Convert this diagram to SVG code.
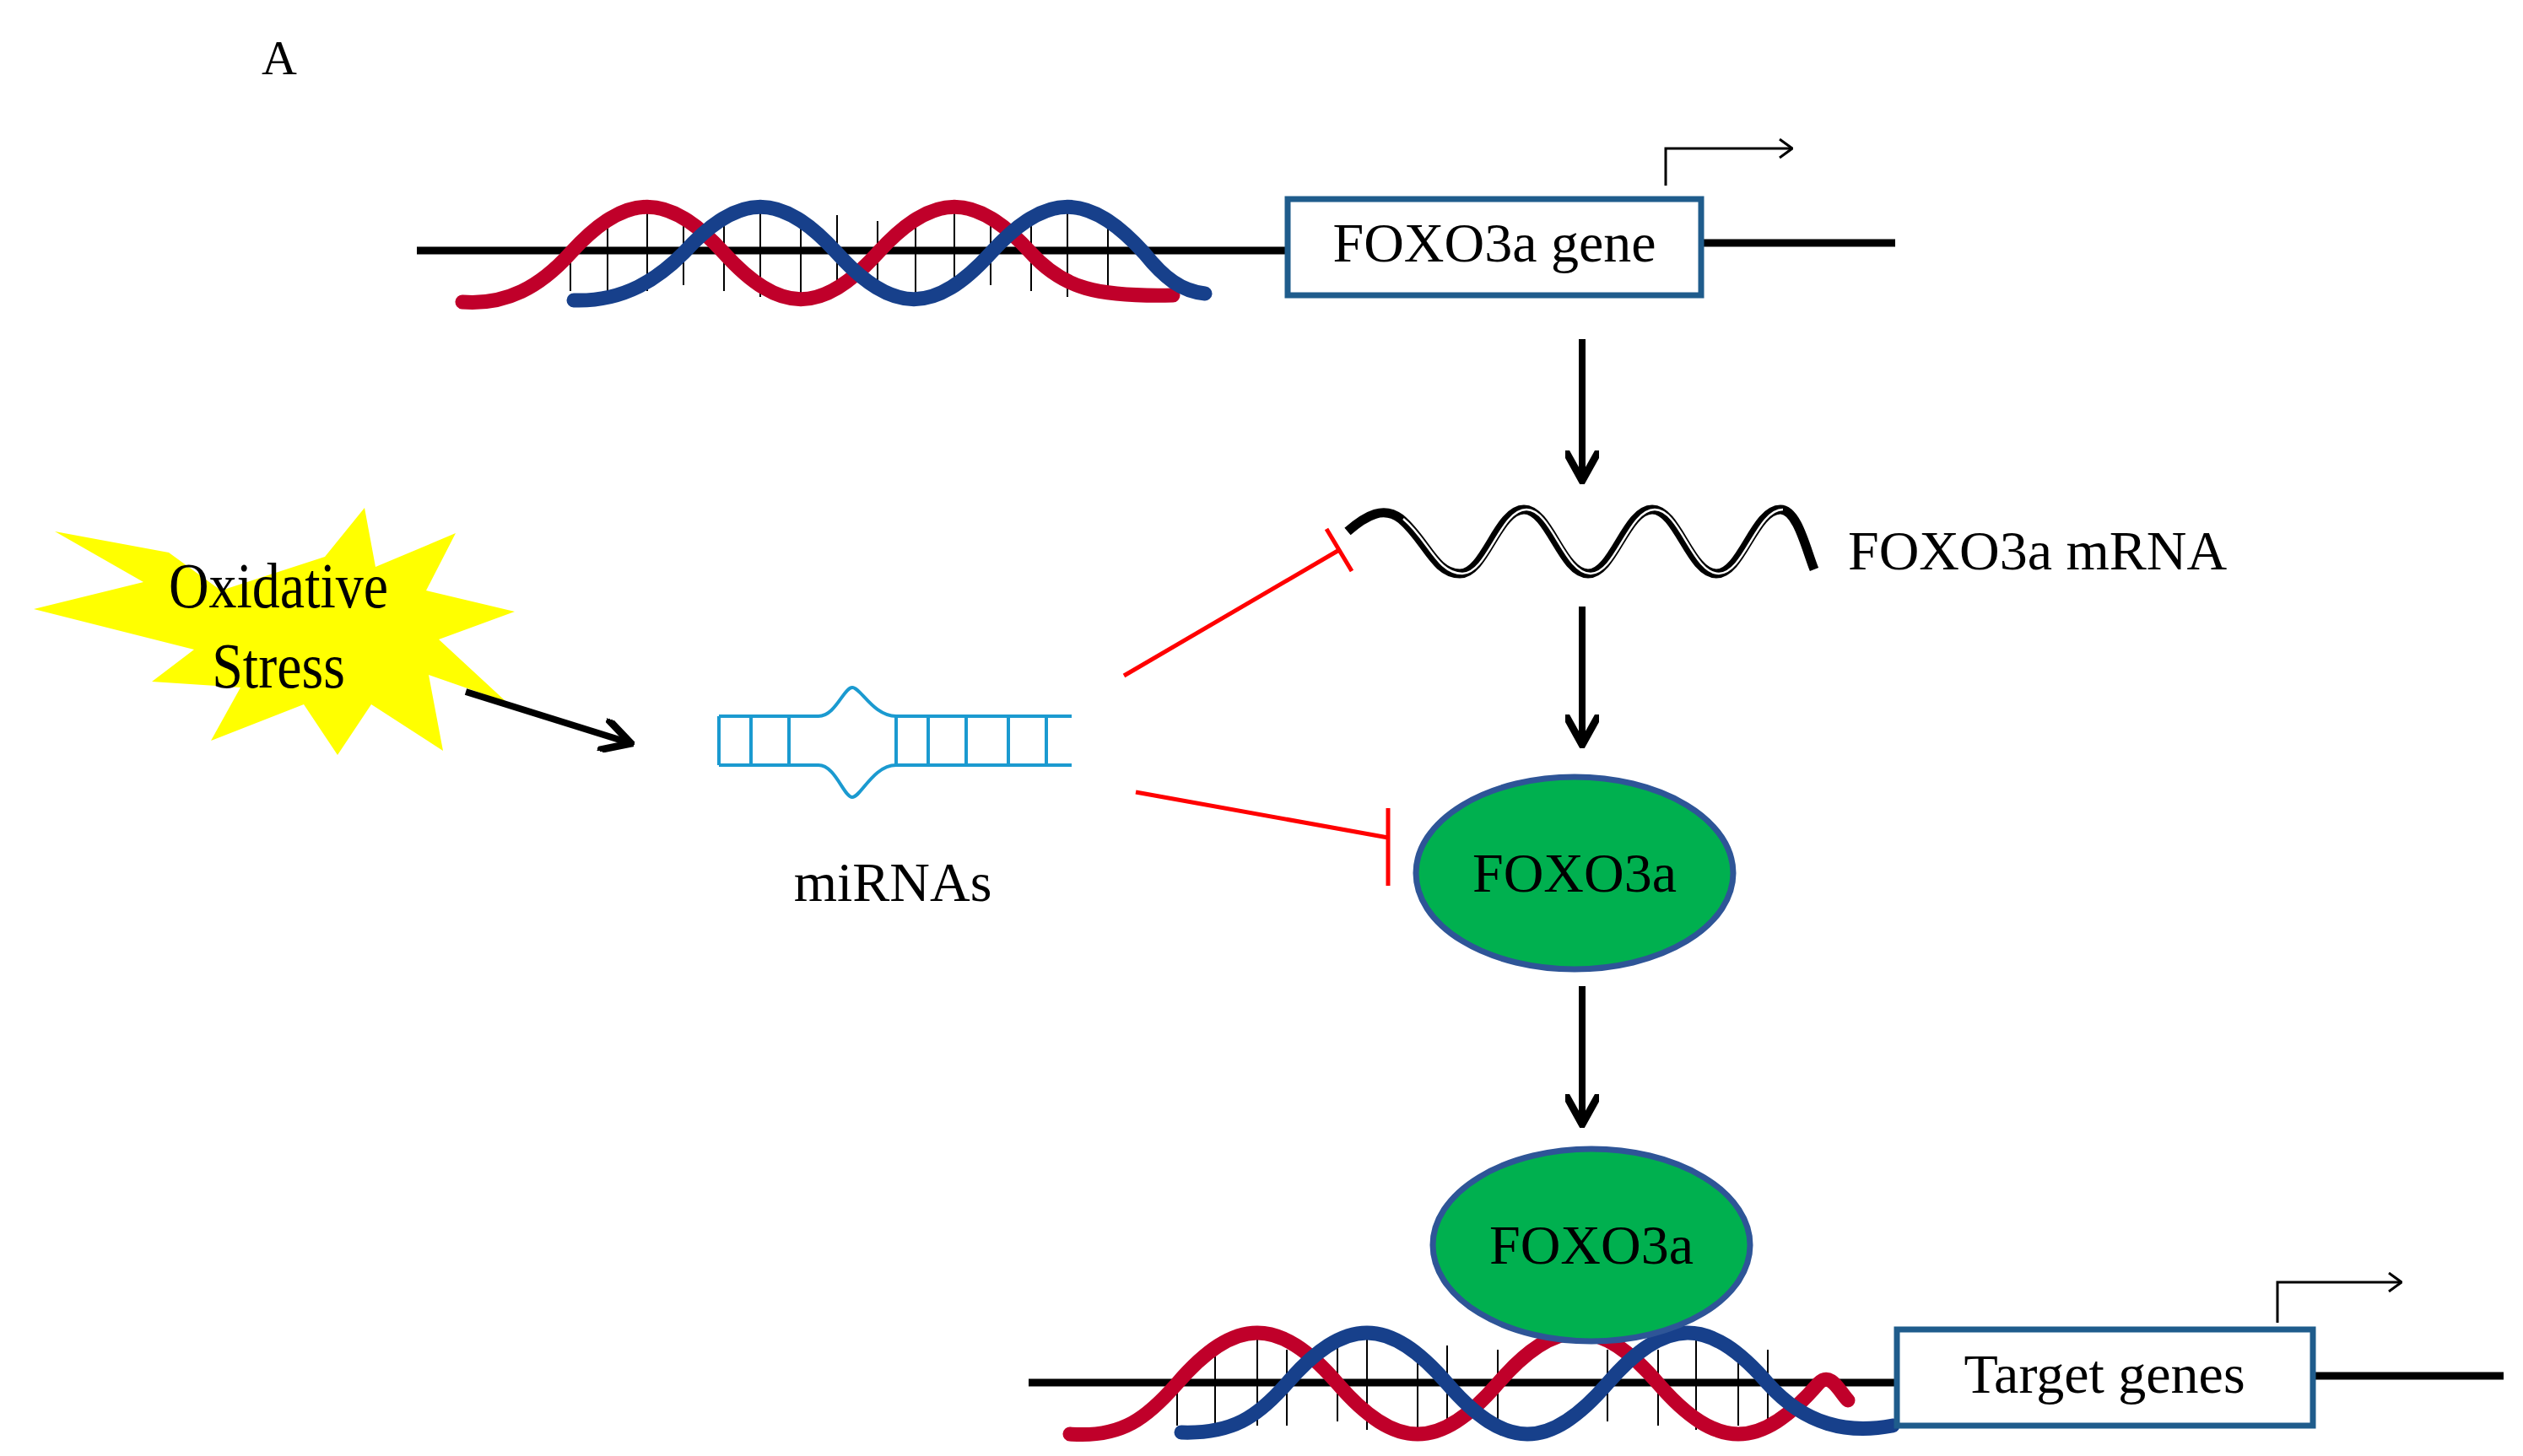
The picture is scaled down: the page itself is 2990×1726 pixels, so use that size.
<svg xmlns="http://www.w3.org/2000/svg" width="2990" height="1726" viewBox="0 0 2990 1726">
<style>
text{font-family:"Liberation Serif","Times New Roman",serif;fill:#000}
.lbl{font-size:66px}
.dna{stroke:#000;stroke-width:9;fill:none}
.red{stroke:#c0002a;stroke-width:17;fill:none;stroke-linecap:round}
.blue{stroke:#17408b;stroke-width:17;fill:none;stroke-linecap:round}
.rung{stroke:#000;stroke-width:2}
.box{fill:#fff;stroke:#1f5c8c;stroke-width:7}
.ell{fill:#00b04f;stroke:#2e5597;stroke-width:7}
.arr{stroke:#000;stroke-width:8;fill:none;marker-end:url(#ah)}
.inh{stroke:#ff0000;stroke-width:5;fill:none}
.prom{stroke:#000;stroke-width:3;fill:none;marker-end:url(#open)}
.mi{stroke:#1b9ad0;stroke-width:4;fill:none}
</style>
<defs>
<marker id="ah" viewBox="0 0 10 10" refX="8" refY="5" markerWidth="5" markerHeight="5" orient="auto" markerUnits="strokeWidth">
<path d="M0,0 L9,5 L0,10" fill="none" stroke="#000" stroke-width="2.2"/>
</marker>
<marker id="open" viewBox="0 0 24 24" refX="23" refY="12" markerWidth="24" markerHeight="24" orient="auto" markerUnits="userSpaceOnUse">
<path d="M8,1 L23,12 L8,23" fill="none" stroke="#000" stroke-width="3"/>
</marker>
</defs>
<text x="310" y="88" style="font-size:58px">A</text>

<g id="top-dna">
<line class="dna" x1="494" y1="297" x2="1530" y2="297"/>
<line class="dna" x1="2010" y1="288" x2="2246" y2="288"/>
<g class="rung">
<line x1="676" y1="300" x2="676" y2="345"/><line x1="720" y1="262" x2="720" y2="352"/><line x1="767" y1="250" x2="767" y2="345"/>
<line x1="810" y1="262" x2="810" y2="338"/><line x1="858" y1="255" x2="858" y2="345"/><line x1="901" y1="248" x2="901" y2="352"/>
<line x1="949" y1="262" x2="949" y2="352"/><line x1="992" y1="255" x2="992" y2="345"/><line x1="1040" y1="262" x2="1040" y2="338"/>
<line x1="1085" y1="255" x2="1085" y2="352"/><line x1="1131" y1="248" x2="1131" y2="345"/><line x1="1174" y1="262" x2="1174" y2="338"/>
<line x1="1222" y1="255" x2="1222" y2="345"/><line x1="1265" y1="248" x2="1265" y2="352"/><line x1="1313" y1="262" x2="1313" y2="352"/>
</g>
<path class="red" d="M548,358 C600,362 640,340 676,300 C742,227 792,227 858,300 C924,373 974,373 1040,300 C1106,227 1156,227 1222,300 C1260,342 1300,352 1390,350"/>
<path class="blue" d="M680,356 C740,358 780,330 810,300 C876,227 926,227 992,300 C1058,373 1108,373 1174,300 C1240,227 1290,227 1356,300 C1380,330 1400,345 1428,348"/>
</g>
<g id="gene-box">
<rect class="box" x="1526" y="236" width="490" height="114"/>
<text class="lbl" x="1771" y="310" text-anchor="middle">FOXO3a gene</text>
</g>
<path class="prom" d="M1974,220 V176 H2124"/>

<g id="mrna">
<path d="M1597,630 C1620,610 1640,600 1660,615 C1690,640 1700,680 1730,680 C1760,680 1775,604 1806,604 C1836,604 1851,680 1882,680 C1912,680 1927,604 1958,604 C1988,604 2003,680 2034,680 C2064,680 2079,604 2110,604 C2130,604 2140,650 2150,675" stroke="#000" stroke-width="11" fill="none"/>
<path d="M1660,615 C1690,640 1700,680 1730,680 C1760,680 1775,604 1806,604 C1836,604 1851,680 1882,680 C1912,680 1927,604 1958,604 C1988,604 2003,680 2034,680 C2064,680 2079,604 2110,604" stroke="#fff" stroke-width="2.5" fill="none" transform="translate(3,0)"/>
<text class="lbl" x="2190" y="675">FOXO3a mRNA</text>
</g>

<g id="stress">
<polygon fill="#ffff00" points="432,602 445,672 540,632 505,700 610,725 520,758 600,832 508,800 525,890 440,835 400,895 360,835 250,878 285,815 180,808 230,770 40,722 170,690 65,630 200,655 262,700 385,660"/>
<text class="lbl" x="330" y="720" text-anchor="middle" transform="translate(330,720) scale(1,1.15) translate(-330,-720)">Oxidative</text>
<text class="lbl" x="330" y="815" text-anchor="middle" transform="translate(330,815) scale(1,1.15) translate(-330,-815)">Stress</text>
</g>

<g id="mirna">
<path class="mi" d="M852,849 H970 C990,849 1000,815 1010,815 C1020,815 1035,849 1062,849 H1270"/>
<path class="mi" d="M852,907 H970 C990,907 1000,945 1010,945 C1020,945 1035,907 1062,907 H1270"/>
<g class="mi"><line x1="852" y1="849" x2="852" y2="907"/><line x1="890" y1="849" x2="890" y2="907"/><line x1="935" y1="849" x2="935" y2="907"/><line x1="1062" y1="849" x2="1062" y2="907"/><line x1="1100" y1="849" x2="1100" y2="907"/><line x1="1145" y1="849" x2="1145" y2="907"/><line x1="1195" y1="849" x2="1195" y2="907"/><line x1="1240" y1="849" x2="1240" y2="907"/></g>
<text class="lbl" x="1058" y="1068" text-anchor="middle">miRNAs</text>
</g>

<g id="foxo3a-1">
<ellipse class="ell" cx="1866" cy="1035" rx="188" ry="114"/>
<text class="lbl" x="1866" y="1057" text-anchor="middle">FOXO3a</text>
</g>

<g id="bottom-dna">
<line class="dna" x1="1219" y1="1639" x2="2250" y2="1639"/>
<line class="dna" x1="2740" y1="1631" x2="2967" y2="1631"/>
<g class="rung">
<line x1="1395" y1="1640" x2="1395" y2="1690"/><line x1="1440" y1="1600" x2="1440" y2="1695"/><line x1="1490" y1="1585" x2="1490" y2="1690"/>
<line x1="1525" y1="1600" x2="1525" y2="1690"/><line x1="1585" y1="1595" x2="1585" y2="1685"/><line x1="1620" y1="1585" x2="1620" y2="1695"/>
<line x1="1680" y1="1595" x2="1680" y2="1695"/><line x1="1715" y1="1595" x2="1715" y2="1685"/><line x1="1775" y1="1600" x2="1775" y2="1685"/>
<line x1="1905" y1="1600" x2="1905" y2="1685"/><line x1="1965" y1="1600" x2="1965" y2="1690"/><line x1="2010" y1="1585" x2="2010" y2="1695"/>
<line x1="2060" y1="1595" x2="2060" y2="1690"/><line x1="2095" y1="1600" x2="2095" y2="1685"/>
</g>
<path class="red" d="M1268,1700 C1330,1705 1360,1680 1395,1640 C1464,1560 1516,1560 1585,1640 C1654,1720 1706,1720 1775,1640 C1844,1560 1896,1560 1965,1640 C2034,1720 2086,1720 2155,1640 C2170,1625 2180,1650 2190,1660"/>
<path class="blue" d="M1400,1698 C1460,1700 1490,1680 1525,1640 C1594,1560 1646,1560 1715,1640 C1784,1720 1836,1720 1905,1640 C1974,1560 2026,1560 2095,1640 C2140,1690 2190,1700 2243,1690"/>
</g>
<g id="foxo3a-2">
<ellipse class="ell" cx="1886" cy="1476" rx="188" ry="114"/>
<text class="lbl" x="1886" y="1498" text-anchor="middle">FOXO3a</text>
</g>
<g id="target-box">
<rect class="box" x="2248" y="1576" width="493" height="114"/>
<text class="lbl" x="2494" y="1651" text-anchor="middle">Target genes</text>
</g>
<path class="prom" d="M2699,1568 V1520 H2846"/>

<g id="connectors">
<line class="arr" x1="1875" y1="402" x2="1875" y2="566"/>
<line class="arr" x1="1875" y1="719" x2="1875" y2="879"/>
<line class="arr" x1="1875" y1="1169" x2="1875" y2="1329"/>
<line class="arr" x1="552" y1="820" x2="744" y2="880"/>
<line class="inh" x1="1332" y1="801" x2="1587" y2="652"/>
<line class="inh" x1="1572" y1="627" x2="1602" y2="677"/>
<line class="inh" x1="1346" y1="939" x2="1645" y2="993"/>
<line class="inh" x1="1645" y1="958" x2="1645" y2="1050"/>
</g>
</svg>
